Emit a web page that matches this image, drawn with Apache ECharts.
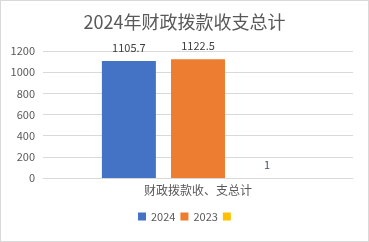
<!DOCTYPE html>
<html><head><meta charset="utf-8">
<script src="https://cdn.jsdelivr.net/npm/echarts@6/dist/echarts.min.js"></script>
<style>
html,body{margin:0;padding:0;background:#fff;}
#c{width:367px;height:240px;border:1px solid #d9d9d9;}
</style></head>
<body><div id="c"></div>
<script>
const title = '2024年财政拨款收支总计';
const categories = ['财政拨款收、支总计'];
const seriesNames = ['2024', '2023', ' '];
const values2024 = [1105.7];
const values2023 = [1122.5];
const valuesThird = [1];
const yTicks = [0, 200, 400, 600, 800, 1000, 1200];
const colors = ['#4472C4', '#ED7D31', '#FFC000'];
const font = '"Noto Sans CJK SC", "Liberation Sans", sans-serif';

const chart = echarts.init(document.getElementById('c'), null, {renderer: 'canvas'});
const dataSets = [values2024, values2023, valuesThird];
chart.setOption({
  animation: false,
  textStyle: {fontFamily: font},
  title: {text: title, left: 'center', top: 7, textStyle: {fontSize: 18, fontWeight: 'normal', color: '#595959', fontFamily: font}},
  legend: {bottom: 14, left: 132, itemWidth: 8, itemHeight: 8, itemGap: 5, icon: 'rect',
    textStyle: {fontSize: 11, color: '#595959', fontFamily: font}, data: seriesNames},
  grid: {left: 42, right: 15, top: 50, bottom: 63},
  xAxis: {type: 'category', data: categories, axisTick: {show: false},
    axisLine: {lineStyle: {color: '#d9d9d9'}},
    axisLabel: {fontSize: 12, color: '#595959', margin: 6, fontFamily: font}},
  yAxis: {type: 'value', min: yTicks[0], max: yTicks[yTicks.length - 1], interval: 200,
    axisLine: {show: false}, axisTick: {show: false},
    splitLine: {lineStyle: {color: '#d9d9d9'}},
    axisLabel: {fontSize: 11, color: '#595959', margin: 8, fontFamily: font, formatter: v => String(v)}},
  series: dataSets.map((d, i) => ({
    name: seriesNames[i], type: 'bar', data: d, barGap: '28%', barCategoryGap: '38%',
    itemStyle: {color: colors[i]},
    label: {show: true, position: 'top', distance: 8, fontSize: 11,
      color: i === 2 ? '#44546A' : '#404040', fontFamily: font}
  }))
});
</script></body></html>
